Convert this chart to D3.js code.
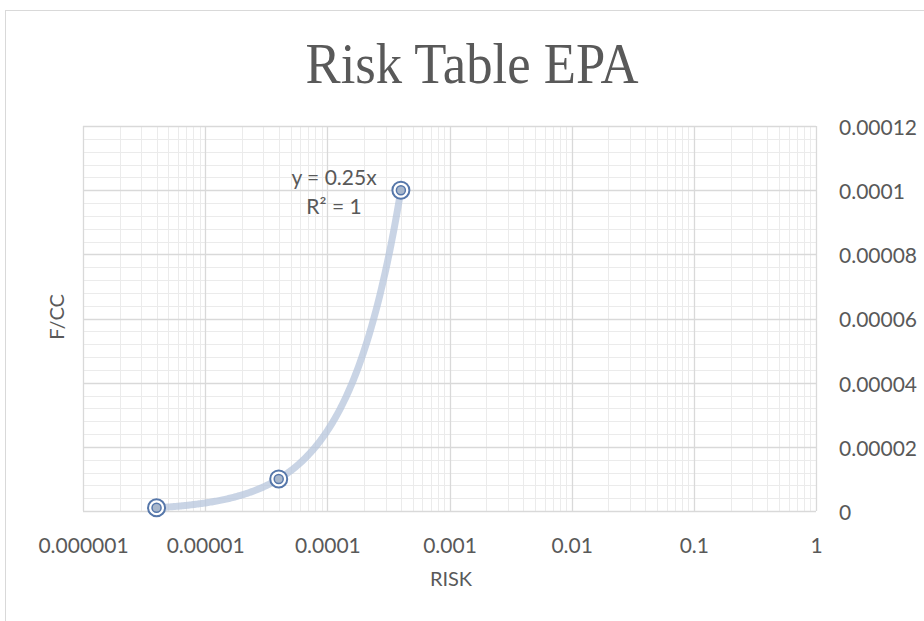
<!DOCTYPE html>
<html><head><meta charset="utf-8">
<script src="https://cdn.jsdelivr.net/npm/d3@7"></script>
<style>body{margin:0;background:#fff} svg{display:block}</style>
</head><body><svg id="c" width="924" height="621"></svg>
<script>
const chartTitle = "Risk Table EPA";
const xTitle = "RISK";
const yTitle = "F/CC";
const risk = [0.000004, 0.00004, 0.0004];
const fcc = [0.000001, 0.00001, 0.0001];
const xTicks = [0.000001, 0.00001, 0.0001, 0.001, 0.01, 0.1, 1];
const xTickLabels = ["0.000001", "0.00001", "0.0001", "0.001", "0.01", "0.1", "1"];
const yTicks = [0, 0.00002, 0.00004, 0.00006, 0.00008, 0.0001, 0.00012];
const yTickLabels = ["0", "0.00002", "0.00004", "0.00006", "0.00008", "0.0001", "0.00012"];
const trendSlope = 0.25;
const trendR2 = 1;

const svg = d3.select("#c");
const font = "Lato, 'Open Sans', sans-serif";
const txt = "#595959";
const L = 83, R = 816, T = 126, B = 511;

const x = d3.scaleLog().domain([1e-6, 1]).range([L, R]);
const y = d3.scaleLinear().domain([0, 0.00012]).range([B, T]);

// outer chart border
svg.append("rect").attr("x", 5.5).attr("y", 10.5).attr("width", 1000).attr("height", 1000)
  .attr("fill", "#fff").attr("stroke", "#d9d9d9").attr("stroke-width", 1);

// title
svg.append("text").attr("x", 472).attr("y", 83).attr("text-anchor", "middle")
  .attr("font-family", "'Liberation Serif', serif").attr("font-size", 56)
  .attr("fill", txt).attr("textLength", 333).attr("lengthAdjust", "spacingAndGlyphs")
  .text(chartTitle);

const g = svg.append("g");

// minor gridlines
const minorX = [];
xTicks.slice(0, -1).forEach(d => { for (let k = 2; k <= 9; k++) minorX.push(d * k); });
const minorY = d3.range(1, 30).filter(i => i % 5 !== 0).map(i => i * 0.000004);
g.selectAll(".mx").data(minorX).enter().append("line")
  .attr("x1", d => Math.round(x(d)) + 0.5).attr("x2", d => Math.round(x(d)) + 0.5)
  .attr("y1", T).attr("y2", B).attr("stroke", "#ebebeb").attr("stroke-width", 1);
g.selectAll(".my").data(minorY).enter().append("line")
  .attr("y1", d => Math.round(y(d)) + 0.5).attr("y2", d => Math.round(y(d)) + 0.5)
  .attr("x1", L).attr("x2", R).attr("stroke", "#ebebeb").attr("stroke-width", 1);

// major gridlines
g.selectAll(".Mx").data(xTicks).enter().append("line")
  .attr("x1", d => Math.round(x(d)) + 0.5).attr("x2", d => Math.round(x(d)) + 0.5)
  .attr("y1", T).attr("y2", B).attr("stroke", "#d9d9d9").attr("stroke-width", 1.3);
g.selectAll(".My").data(yTicks).enter().append("line")
  .attr("y1", d => Math.round(y(d)) + 0.5).attr("y2", d => Math.round(y(d)) + 0.5)
  .attr("x1", L).attr("x2", R).attr("stroke", "#d9d9d9").attr("stroke-width", 1.3);

// axes labels via d3 axes
const xAxis = d3.axisBottom(x).tickValues(xTicks).tickFormat((d, i) => xTickLabels[i]).tickSize(0).tickPadding(0);
const xa = svg.append("g").attr("transform", `translate(0,${B})`).call(xAxis);
xa.select(".domain").remove();
xa.selectAll("text").attr("font-family", font).attr("font-size", 21).attr("fill", txt)
  .attr("dy", null).attr("y", 42);

const yAxis = d3.axisRight(y).tickValues(yTicks).tickFormat((d, i) => yTickLabels[i]).tickSize(0).tickPadding(0);
const ya = svg.append("g").attr("transform", `translate(839,0)`).call(yAxis);
ya.select(".domain").remove();
ya.selectAll("text").attr("font-family", font).attr("font-size", 21).attr("fill", txt)
  .attr("x", 0).attr("dy", "0.4em");

// axis titles
svg.append("text").attr("x", 451).attr("y", 586).attr("text-anchor", "middle")
  .attr("font-family", font).attr("font-size", 20).attr("fill", txt).text(xTitle);
svg.append("text").attr("transform", "translate(64,317) rotate(-90)").attr("text-anchor", "middle")
  .attr("font-family", font).attr("font-size", 20).attr("fill", txt).text(yTitle);

// trendline y = slope * x over data range
const xmin = d3.min(risk), xmax = d3.max(risk);
const lx0 = Math.log10(xmin), lx1 = Math.log10(xmax);
const samples = d3.range(0, 201).map(i => Math.pow(10, lx0 + (lx1 - lx0) * i / 200));
const line = d3.line().x(d => x(d)).y(d => y(trendSlope * d));
svg.append("path").datum(samples).attr("d", line).attr("fill", "none")
  .attr("stroke", "#b7c6dc").attr("stroke-opacity", 0.75).attr("stroke-width", 7).attr("stroke-linecap", "butt");

// trendline label
const lab = svg.append("text").attr("font-family", font).attr("font-size", 21).attr("fill", txt).attr("text-anchor", "middle");
lab.append("tspan").attr("x", 334).attr("y", 185).text(`y = ${trendSlope}x`);
lab.append("tspan").attr("x", 334).attr("y", 214).text(`R² = ${trendR2}`);

// markers
const pts = risk.map((r, i) => ({ r, f: fcc[i] }));
const mk = svg.selectAll(".pt").data(pts).enter().append("g")
  .attr("transform", d => `translate(${x(d.r)},${y(d.f)})`);
mk.append("circle").attr("r", 8.5).attr("fill", "#ffffff").attr("stroke", "#5677aa").attr("stroke-width", 2);
mk.append("circle").attr("r", 4.5).attr("fill", "#a8b7cc").attr("stroke", "#5677aa").attr("stroke-width", 1.5);
</script></body></html>
